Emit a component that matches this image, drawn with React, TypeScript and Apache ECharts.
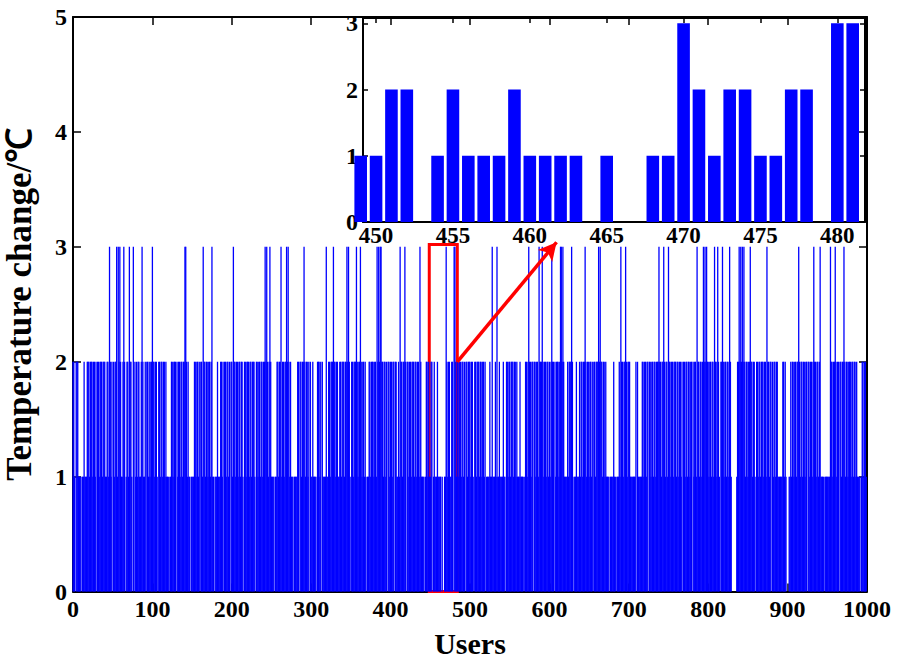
import React, { useEffect, useRef } from "react";
import * as echarts from "echarts";

// Temperature change (°C) per user (users 0..999)
const values0to99 = [
  2,2,1,0,2,2,2,1,1,1, 1,0,1,1,2,1,1,1,2,2, 2,1,2,2,2,1,2,2,1,2, 0,2,2,1,2,2,2,1,2,2, 2,1,1,2,2,1,3,2,1,2,
  0,2,1,2,2,3,1,3,2,3, 2,1,1,2,3,2,0,1,2,2, 1,3,2,2,1,0,3,0,2,1, 2,1,2,2,1,1,2,3,2,1, 1,2,0,2,2,1,2,1,2,2,
];
const values100to199 = [
  3,2,2,1,2,2,1,0,2,2, 1,2,2,1,2,2,1,2,1,1, 1,0,1,1,2,2,1,2,2,2, 0,2,1,2,2,1,2,2,1,2, 2,3,3,2,1,2,1,1,0,1,
  1,1,1,2,2,1,2,2,1,2, 0,2,2,1,3,2,2,1,2,2, 1,2,2,1,2,3,1,1,0,1, 1,1,2,1,1,1,2,2,1,2, 0,2,2,1,2,2,1,2,0,2,
];
const values200to299 = [
  2,1,3,2,2,1,2,2,1,2, 2,1,2,2,1,0,2,2,1,2, 2,2,1,2,2,1,2,2,2,1, 0,2,2,1,2,2,1,2,2,1, 2,2,3,2,3,2,1,2,3,2,
  1,1,1,1,0,1,1,2,2,1, 2,2,3,1,2,2,1,2,2,3, 2,3,2,1,2,1,1,1,0,1, 1,1,1,2,2,0,2,2,1,2, 2,3,2,1,2,2,1,2,0,2,
];
const values300to399 = [
  1,1,2,1,1,1,1,0,2,2, 2,1,2,0,2,1,1,1,1,3, 1,1,2,2,1,2,2,2,3,2, 2,1,2,2,1,1,2,2,1,2, 2,2,1,2,2,3,2,3,2,1,
  0,2,2,1,2,2,2,3,2,1, 2,2,3,2,1,2,2,1,2,1, 0,1,1,2,2,1,2,2,2,1, 2,2,1,3,2,3,2,3,3,2, 2,1,2,2,1,2,0,2,2,1,
];
const values400to499 = [
  2,2,1,2,2,0,2,2,1,1, 2,1,3,2,2,1,2,2,3,2, 0,2,2,1,2,2,1,2,2,2, 1,2,2,1,2,2,1,3,2,1, 1,1,1,0,1,2,2,1,2,1,
  1,2,2,0,1,2,1,1,1,2, 1,1,1,1,0,1,0,0,1,1, 3,2,1,2,2,1,1,2,2,0, 3,3,2,1,2,2,1,2,2,1, 2,2,1,2,0,2,2,1,2,2,
];
const values500to599 = [
  2,1,2,2,1,0,2,2,1,2, 2,2,1,2,2,1,2,2,1,2, 0,1,1,1,1,2,1,1,3,1, 1,1,2,1,3,1,1,2,1,1, 1,1,2,1,1,0,2,2,1,2,
  2,1,2,2,2,1,2,2,1,2, 1,1,1,2,1,1,1,1,0,1, 2,2,1,2,3,2,2,1,2,2, 0,2,2,1,2,2,1,3,2,2, 2,3,2,1,2,2,1,2,2,1,
];
const values600to699 = [
  2,1,2,3,2,2,0,2,1,2, 2,2,1,2,3,3,2,3,2,1, 1,1,1,2,1,2,2,2,3,2, 0,1,1,1,2,1,1,1,2,1, 2,2,1,2,2,3,2,1,2,2,
  1,2,2,1,2,0,2,2,1,2, 2,2,3,2,3,2,2,1,2,2, 1,2,1,1,1,1,0,1,1,1, 1,2,1,1,0,1,1,1,2,1, 3,2,2,1,2,2,3,2,1,2,
];
const values700to799 = [
  2,2,1,1,1,1,1,1,1,2, 0,2,1,1,1,1,1,2,2,1, 2,2,1,2,2,0,2,2,1,2, 2,1,2,2,1,2,2,2,3,2, 2,1,2,2,3,2,1,2,2,1,
  3,2,2,1,2,2,1,2,2,2, 1,2,2,1,2,2,1,2,0,2, 2,1,2,2,1,2,2,1,2,2, 0,2,1,2,2,1,3,2,2,1, 2,2,1,2,3,2,3,2,3,2,
];
const values800to899 = [
  2,1,2,2,1,2,2,1,3,2, 2,1,3,2,1,0,2,2,3,2, 1,2,2,1,2,2,1,3,2,1, 0,0,0,0,0,0,1,2,2,3, 2,3,2,3,2,3,2,1,2,2,
  1,2,2,3,2,2,1,2,2,1, 0,2,2,1,2,2,1,2,2,2, 1,2,2,1,3,2,2,1,2,2, 0,2,1,2,2,1,2,2,1,1, 1,1,1,1,2,2,1,2,1,0,
];
const values900to999 = [
  0,0,1,1,2,1,2,2,1,2, 2,1,2,2,3,2,1,2,2,1, 2,2,1,2,2,0,2,2,1,2, 2,1,2,3,2,2,1,2,2,1, 2,3,1,1,1,1,0,1,1,1,
  1,1,1,1,3,2,2,1,2,2, 3,2,1,2,2,0,2,2,1,2, 2,3,2,1,2,2,1,2,2,2, 1,2,2,1,2,2,1,2,1,1, 1,1,0,1,2,2,1,2,2,1,
];

const temperatureChange = [
  ...values0to99, ...values100to199, ...values200to299, ...values300to399, ...values400to499,
  ...values500to599, ...values600to699, ...values700to799, ...values800to899, ...values900to999,
];
const users = temperatureChange.map((_, i) => i);

// Zoomed window
const zoomFirstUser = 449;
const zoomLastUser = 481;
const insetXTickLabels = [450, 455, 460, 465, 470, 475, 480];
const insetYTickLabels = [0, 1, 2, 3];

// Highlight box and arrow (data coordinates)
const boxFrom = [448.7, 0];
const boxTo = [484, 3.02];
const arrowFrom = [484, 2.0];
const arrowTo = [609, 3.04];

const FONT = "'Liberation Serif', 'Times New Roman', serif";

export default function App() {
  const ref = useRef<HTMLDivElement>(null);

  useEffect(() => {
    if (!ref.current) return;
    const chart = echarts.init(ref.current, null, { renderer: "svg" });

    const tickLabel = { fontFamily: FONT, fontWeight: "bold" as const, fontSize: 24, color: "#000" };
    const axisLine = { show: true, onZero: false, lineStyle: { color: "#000", width: 2 } };
    const plain = (v: number) => String(v);

    const mainData = users.map((u, i) => [u, temperatureChange[i]]);
    const insetData = mainData.filter((d) => d[0] >= zoomFirstUser && d[0] <= zoomLastUser);

    chart.setOption({
      animation: false,
      backgroundColor: "#fff",
      grid: [
        { left: 73, right: 31, top: 17, bottom: 75.4, containLabel: false, outerBoundsMode: "none" },
        { left: 363, top: 18, width: 502, height: 204, containLabel: false, outerBoundsMode: "none" },
      ],
      xAxis: [
        {
          type: "value", gridIndex: 0, min: 0, max: 1000, interval: 100, position: "bottom",
          axisLine, axisTick: { show: true, inside: true, length: 8, lineStyle: { color: "#000", width: 1.5 } },
          axisLabel: { ...tickLabel, margin: 5, formatter: plain },
          splitLine: { show: false },
          name: "Users", nameLocation: "middle", nameGap: 37,
          nameTextStyle: { fontFamily: FONT, fontWeight: "bold", fontSize: 30, color: "#000" },
        },
        {
          type: "value", gridIndex: 0, min: 0, max: 1000, interval: 100, position: "top",
          axisLine, axisTick: { show: true, inside: true, length: 8, lineStyle: { color: "#000", width: 1.5 } },
          axisLabel: { show: false }, splitLine: { show: false },
        },
        {
          type: "value", gridIndex: 1, min: 449.15, max: 481.8, position: "bottom",
          axisLine, axisTick: { show: true, inside: true, length: 5, customValues: insetXTickLabels, lineStyle: { color: "#000", width: 1.5 } },
          axisLabel: { ...tickLabel, fontSize: 23, margin: 2, customValues: insetXTickLabels, formatter: plain },
          splitLine: { show: false },
        },
        {
          type: "value", gridIndex: 1, min: 449.15, max: 481.8, position: "top",
          axisLine, axisTick: { show: true, inside: true, length: 5, customValues: insetXTickLabels, lineStyle: { color: "#000", width: 1.5 } },
          axisLabel: { show: false }, splitLine: { show: false },
        },
      ],
      yAxis: [
        {
          type: "value", gridIndex: 0, min: 0, max: 5, interval: 1, position: "left",
          axisLine, axisTick: { show: true, inside: true, length: 8, lineStyle: { color: "#000", width: 1.5 } },
          axisLabel: { ...tickLabel, margin: 6 },
          splitLine: { show: false },
          name: "Temperature change/℃", nameLocation: "middle", nameRotate: 90, nameGap: 36,
          nameTextStyle: { fontFamily: FONT, fontWeight: "bold", fontSize: 35, color: "#000" },
        },
        {
          type: "value", gridIndex: 0, min: 0, max: 5, interval: 1, position: "right",
          axisLine, axisTick: { show: true, inside: true, length: 8, lineStyle: { color: "#000", width: 1.5 } },
          axisLabel: { show: false }, splitLine: { show: false },
        },
        {
          type: "value", gridIndex: 1, min: 0, max: 3.08, position: "left",
          axisLine, axisTick: { show: true, inside: true, length: 5, customValues: insetYTickLabels, lineStyle: { color: "#000", width: 1.5 } },
          axisLabel: { ...tickLabel, margin: 5, customValues: insetYTickLabels },
          splitLine: { show: false },
        },
        {
          type: "value", gridIndex: 1, min: 0, max: 3.08, position: "right",
          axisLine, axisTick: { show: true, inside: true, length: 5, customValues: insetYTickLabels, lineStyle: { color: "#000", width: 1.5 } },
          axisLabel: { show: false }, splitLine: { show: false },
        },
      ],
      series: [
        {
          type: "bar", xAxisIndex: 0, yAxisIndex: 0, data: mainData,
          barWidth: 1.3, itemStyle: { color: "#0000ff" }, large: false, silent: true,
        },
        {
          type: "bar", xAxisIndex: 2, yAxisIndex: 2, data: insetData,
          barWidth: 12.6, itemStyle: { color: "#0000ff" }, silent: true,
        },
        {
          type: "scatter", xAxisIndex: 0, yAxisIndex: 0, data: [], z: 10, silent: true,
          markArea: {
            silent: true,
            itemStyle: { color: "rgba(0,0,0,0)", borderColor: "#ff0000", borderWidth: 3 },
            label: { show: false },
            data: [[{ coord: boxFrom }, { coord: boxTo }]],
          },
          markLine: {
            silent: true,
            symbol: ["none", "arrow"], symbolSize: [14, 18],
            lineStyle: { color: "#ff0000", width: 3.5, type: "solid" },
            label: { show: false },
            data: [[{ coord: arrowFrom }, { coord: arrowTo }]],
          },
        },
      ],
    });

    return () => chart.dispose();
  }, []);

  return <div ref={ref} style={{ position: "absolute", left: 0, top: 0, width: 898, height: 667 }} />;
}
